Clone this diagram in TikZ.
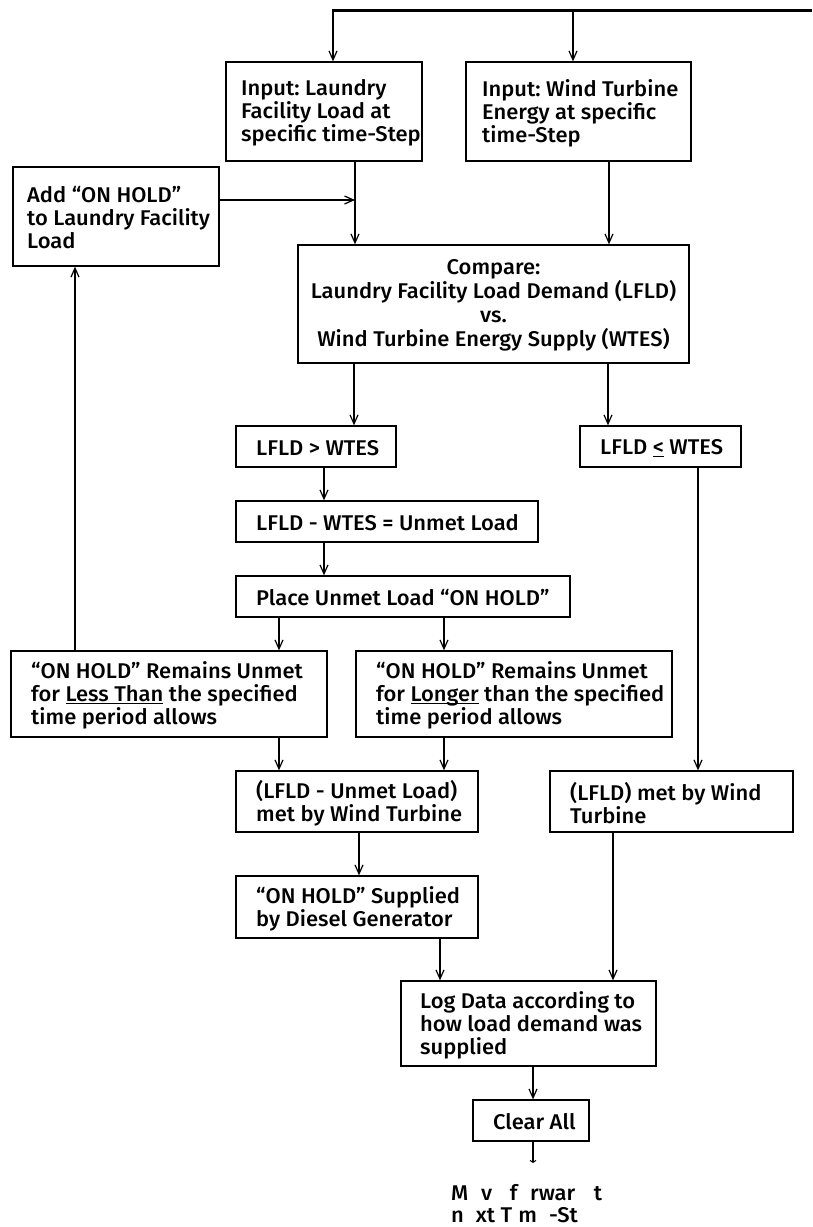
\documentclass[tikz,border=0pt]{standalone}
\usepackage{fontspec}
\setmainfont{Fira Sans Medium}[FakeStretch=1.03]
\frenchspacing
\usetikzlibrary{arrows.meta,calc}
\newcommand{\myul}[1]{\setbox0\hbox{#1}\rlap{\rule[-2.6pt]{\wd0}{1.1pt}}\box0\relax}
\newcommand{\mybox}[7]{% name, x1, y1, x2, y2, pad, text
  \node[boxst, minimum width={(#4-#2)*1pt}, minimum height={(#5-#3)*1pt}]
        (#1) at ({(#2+#4)/2},{-(#3+#5)/2}) {};
  \node[txtst, anchor=west] (#1t) at ({#2+#6},{-(#3+#5)/2-1.5}) {#7};}
\begin{document}
\begin{tikzpicture}[x=1pt,y=1pt,
  boxst/.style={draw, line width=1.3pt, inner sep=0pt},
  fnt/.style={font=\fontsize{21.3}{23}\selectfont\frenchspacing},
  txtst/.style={inner sep=0pt, align=left, fnt},
  arr/.style={line width=1.3pt, -{Straight Barb[length=9pt,width=8pt,line width=1.2pt]}}]
\useasboundingbox (0,0) rectangle (812,-1227);
\mybox{in1}{226}{62}{422}{161}{15}{Input: Laundry\\Facility Load at\\specific time-Step}
\mybox{in2}{466}{62}{691}{161}{16}{Input: Wind Turbine\\Energy at specific\\time-Step}
\mybox{add}{13}{167}{219}{266}{14}{Add “ON HOLD”\\to Laundry Facility\\Load}
\node[boxst, minimum width=391pt, minimum height=118pt] (cmp) at (493.5,-304) {};
\node[txtst, align=center, font=\fontsize{21.3}{24}\selectfont\frenchspacing] (cmpt) at ($(cmp)+(0,-1)$)
  {Compare:\\Laundry Facility Load Demand (LFLD)\\vs.\\Wind Turbine Energy Supply (WTES)};
\mybox{gt}{236}{426}{396}{467}{20}{LFLD > WTES}
\mybox{le}{580}{426}{741}{467}{20}{LFLD \myul{<} WTES}
\mybox{diff}{236}{501}{538}{542}{20}{LFLD - WTES = Unmet Load}
\mybox{place}{236}{576}{570}{617}{20}{Place Unmet Load “ON HOLD”}
\mybox{less}{11}{651}{327}{737}{20}{“ON HOLD” Remains Unmet\\for \myul{Less Than} the specified\\time period allows}
\mybox{longer}{356}{651}{672}{737}{20}{“ON HOLD” Remains Unmet\\for \myul{Longer} than the specified\\time period allows}
\mybox{unmet}{236}{771}{478}{832}{20}{(LFLD - Unmet Load)\\met by Wind Turbine}
\mybox{met}{550}{771}{793}{832}{20}{(LFLD) met by Wind\\Turbine}
\mybox{diesel}{236}{876}{478}{938}{20}{“ON HOLD” Supplied\\by Diesel Generator}
\mybox{log}{401}{981}{656}{1066}{19}{Log Data according to\\how load demand was\\supplied}
\mybox{clear}{473}{1100}{589}{1141}{20}{Clear All}
\node[inner sep=0pt, fnt, anchor=base west] (nxt1) at (451,-1200)
  {M\phantom{o}v\phantom{e} f\phantom{o}rwar\phantom{d} t};
\node[inner sep=0pt, fnt, anchor=base west] (nxt2) at (451,-1222)
  {n\phantom{e}xt T\phantom{i}m\phantom{e}-St};
% coordinates
\coordinate (topR) at (812,-10);
\coordinate (topL) at (333,-10);
\coordinate (topM) at (573,-10);
\coordinate (endC) at (533,-1163);
\draw[line width=3pt] (topR) -- ($(topL)+(-0.6,0)$);
\draw[arr] (topL) -- (topL |- in1.north);
\draw[arr] (topM) -- (topM |- in2.north);
\draw[arr] (in1.south -| 355,0) -- (cmp.north -| 355,0);
\draw[arr] (add.east |- 0,-200) -- (355,-200);
\draw[arr] (in2.south -| 609,0) -- (cmp.north -| 609,0);
\draw[arr] (cmp.south -| 354,0) -- (gt.north -| 354,0);
\draw[arr] (cmp.south -| 608,0) -- (le.north -| 608,0);
\draw[arr] (gt.south -| 324,0) -- (diff.north -| 324,0);
\draw[arr] (diff.south -| 324,0) -- (place.north -| 324,0);
\draw[arr] (place.south -| 279,0) -- (less.north -| 279,0);
\draw[arr] (place.south -| 444,0) -- (longer.north -| 444,0);
\draw[arr] (less.north -| 75,0) -- (add.south -| 75,0);
\draw[arr] (less.south -| 279,0) -- (unmet.north -| 279,0);
\draw[arr] (longer.south -| 444,0) -- (unmet.north -| 444,0);
\draw[arr] (le.south -| 698,0) -- (met.north -| 698,0);
\draw[arr] (unmet.south -| 359,0) -- (diesel.north -| 359,0);
\draw[arr] (diesel.south -| 440,0) -- (log.north -| 440,0);
\draw[arr] (met.south -| 613,0) -- (log.north -| 613,0);
\draw[arr] (log.south -| 533,0) -- (clear.north -| 533,0);
\draw[line width=2.2pt, -{Straight Barb[length=2pt,width=6pt,line width=1pt]}] (clear.south -| 533,0) -- (endC);
\end{tikzpicture}
\end{document}
